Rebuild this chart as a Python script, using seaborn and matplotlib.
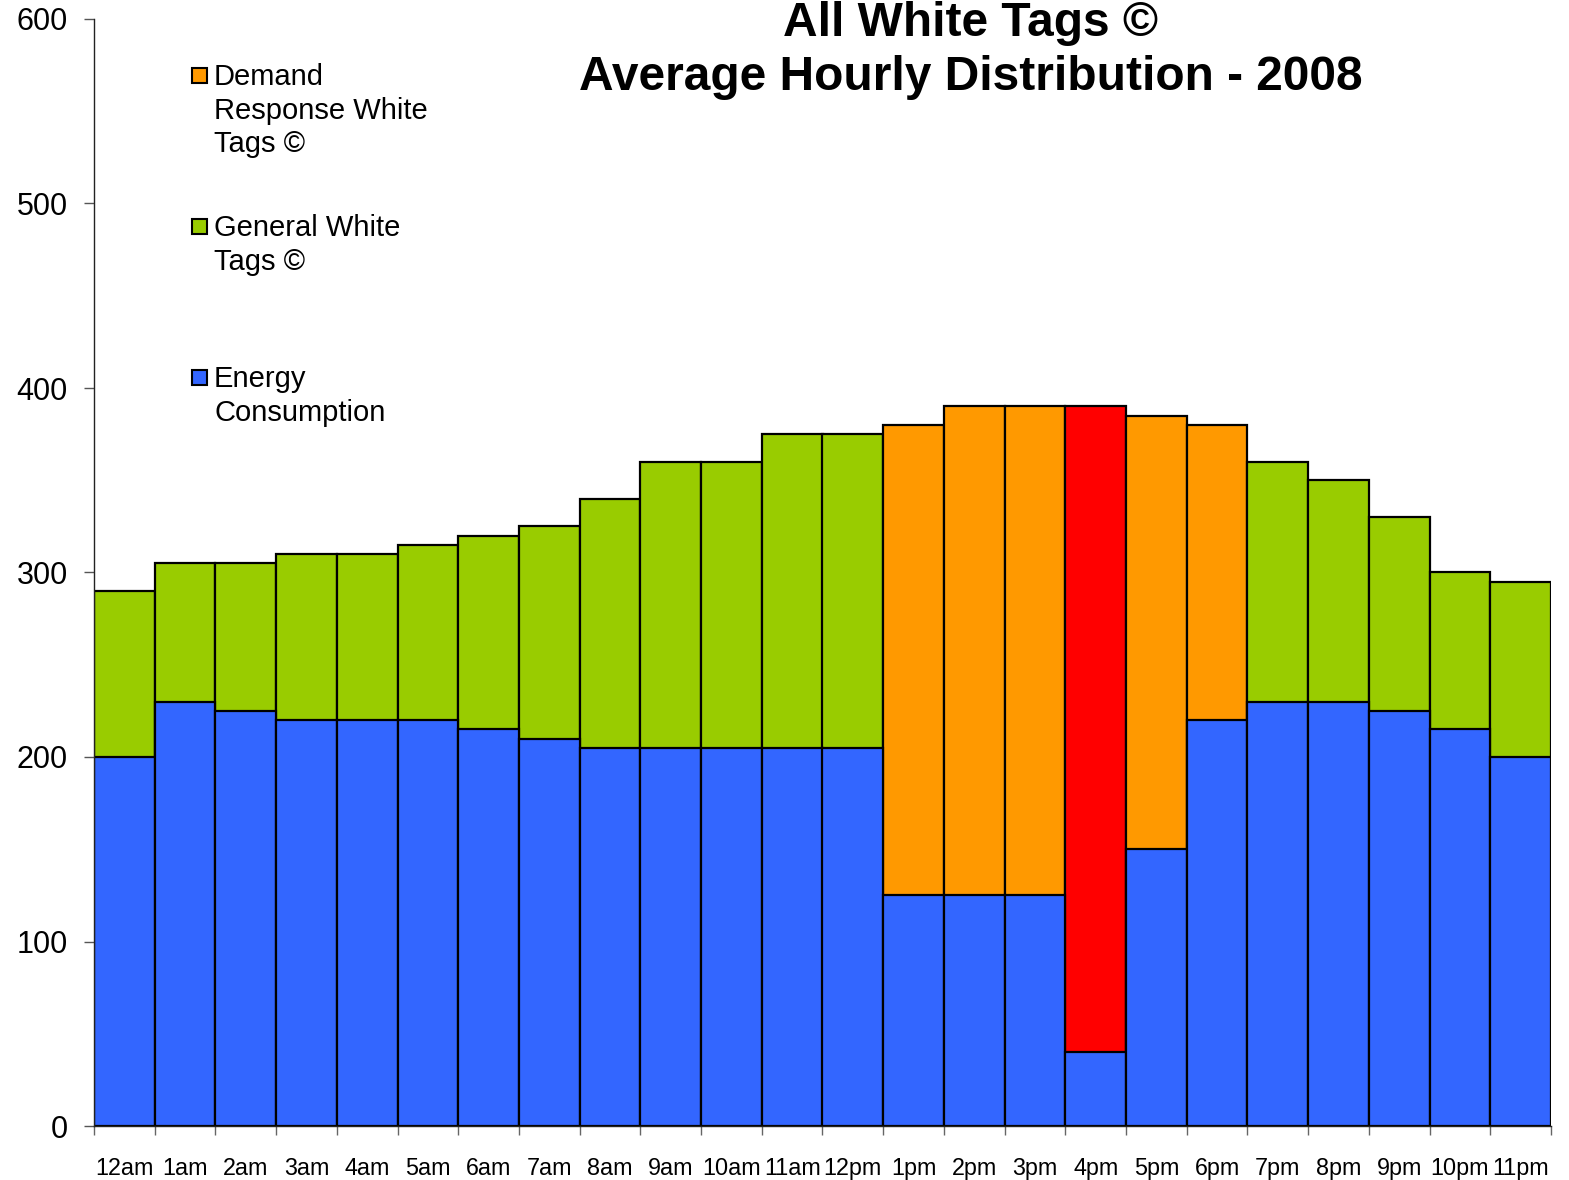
import matplotlib
matplotlib.use("Agg")
import matplotlib.pyplot as plt
import seaborn as sns
import numpy as np
import pandas as pd
from matplotlib.patches import Rectangle

hours = ["12am", "1am", "2am", "3am", "4am", "5am", "6am", "7am", "8am", "9am", "10am", "11am",
         "12pm", "1pm", "2pm", "3pm", "4pm", "5pm", "6pm", "7pm", "8pm", "9pm", "10pm", "11pm"]
energy = [200, 230, 225, 220, 220, 220, 215, 210, 205, 205, 205, 205,
          205, 125, 125, 125, 40, 150, 220, 230, 230, 225, 215, 200]
total = [290, 305, 305, 310, 310, 315, 320, 325, 340, 360, 360, 375,
         375, 380, 390, 390, 390, 385, 380, 360, 350, 330, 300, 295]
tag_type = ["general"] * 13 + ["demand", "demand", "demand", "peak", "demand", "demand"] + ["general"] * 5

type_colors = {"general": "#99CC00", "demand": "#FF9900", "peak": "#FF0000"}
blue = "#3366FF"
legend_labels = ["Demand\nResponse White\nTags ©", "General White\nTags ©", "Energy\nConsumption"]
legend_colors = ["#FF9900", "#99CC00", blue]

df = pd.DataFrame({"hour": hours, "energy": energy, "total": total, "type": tag_type})

sns.set_theme(style="white")
plt.rcParams["font.family"] = ["Liberation Sans", "DejaVu Sans"]
plt.rcParams["text.color"] = "black"
plt.rcParams["xtick.labelcolor"] = "black"
plt.rcParams["ytick.labelcolor"] = "black"

fig = plt.figure(figsize=(15.69, 11.80), dpi=100)
ax = fig.add_axes([94 / 1569, 1 - 1126 / 1180, (1551 - 94) / 1569, (1126 - 19) / 1180])

# stacked: full-height bars coloured by tag type, energy consumption drawn over them
sns.barplot(data=df, x="hour", y="total", hue="hour",
            palette=[type_colors[t] for t in tag_type], legend=False, width=1.0,
            edgecolor="black", linewidth=1.6, ax=ax, saturation=1)
sns.barplot(data=df, x="hour", y="energy", color=blue, width=1.0,
            edgecolor="black", linewidth=1.6, ax=ax, saturation=1)

ax.set_xlim(-0.5, len(hours) - 0.5)
ax.set_ylim(0, 600)
ax.set_yticks(np.arange(0, 601, 100))
ax.set_xlabel("")
ax.set_ylabel("")

for s in ["top", "right"]:
    ax.spines[s].set_visible(False)
for s in ["left", "bottom"]:
    ax.spines[s].set_color("#222222")
    ax.spines[s].set_linewidth(1.0)

ax.set_xticks(np.arange(len(hours)))
ax.set_xticklabels(hours)
ax.set_xticks(np.arange(len(hours) + 1) - 0.5, minor=True)
ax.tick_params(axis="x", which="major", length=0, pad=22.5, labelsize=16.8)
ax.tick_params(axis="x", which="minor", length=6.5, width=1, color="#666666", direction="out", bottom=True)
ax.tick_params(axis="y", which="major", length=7, width=1, color="#555555", direction="out",
               left=True, pad=12, labelsize=22)

# legend (manual, first-line aligned as in the original)
leg_y = [75, 226, 377]
for lab, col, yp in zip(legend_labels, legend_colors, leg_y):
    fig.patches.append(Rectangle((192 / 1569, 1 - (yp + 8) / 1180), 15 / 1569, 15 / 1180,
                                 transform=fig.transFigure, facecolor=col,
                                 edgecolor="black", linewidth=1.5))
    fig.text(214 / 1569, 1 - (yp - 12) / 1180, lab, fontsize=21, va="top", ha="left",
             linespacing=1.26, color="black")

fig.text(971 / 1569, 1 - 1 / 1180, "All White Tags ©\nAverage Hourly Distribution - 2008",
         fontsize=34.5, fontweight="bold", ha="center", va="top", linespacing=1.26)

fig.savefig("out.png", dpi=100)
